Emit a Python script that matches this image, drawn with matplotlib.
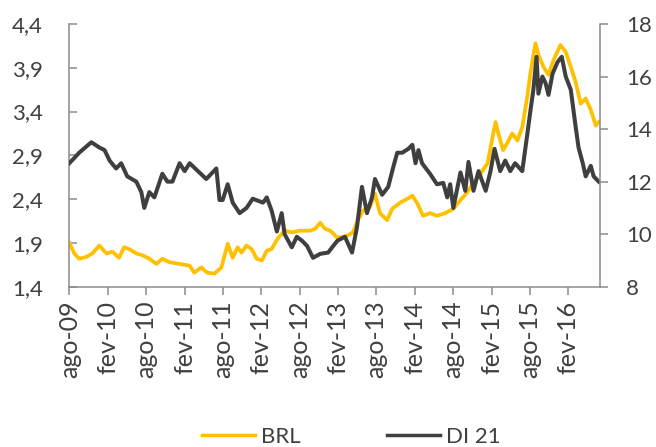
import pandas as pd
import matplotlib
matplotlib.use("Agg")
import matplotlib.pyplot as plt
from matplotlib.lines import Line2D

plt.rcParams['font.family'] = ['Lato', 'DejaVu Sans']

# BRL (left axis)
brl_dates = [
    "2009-08-01", "2009-08-25", "2009-09-17", "2009-10-21", "2009-11-19", "2009-12-22",
    "2010-01-25", "2010-02-22", "2010-03-26", "2010-04-19", "2010-05-13", "2010-06-16",
    "2010-07-14", "2010-08-17", "2010-09-20", "2010-10-18", "2010-11-21", "2011-01-08",
    "2011-02-25", "2011-03-19", "2011-04-21", "2011-05-20", "2011-06-23", "2011-07-26",
    "2011-08-25", "2011-09-18", "2011-10-11", "2011-10-30", "2011-11-23", "2011-12-17",
    "2012-01-10", "2012-02-04", "2012-02-27", "2012-03-21", "2012-04-19", "2012-05-22",
    "2012-06-25", "2012-08-03", "2012-09-20", "2012-10-14", "2012-11-07", "2012-12-01",
    "2012-12-25", "2013-01-28", "2013-03-14", "2013-04-12", "2013-05-06", "2013-05-30",
    "2013-07-02", "2013-07-26", "2013-08-19", "2013-09-22", "2013-10-16", "2013-11-23",
    "2014-01-01", "2014-01-20", "2014-02-13", "2014-03-12", "2014-04-14", "2014-05-17",
    "2014-06-25", "2014-08-03", "2014-09-06", "2014-10-09", "2014-11-07", "2014-12-10",
    "2015-01-13", "2015-02-06", "2015-02-20", "2015-03-05", "2015-03-28", "2015-04-17",
    "2015-05-10", "2015-06-04", "2015-06-27", "2015-07-21", "2015-08-05", "2015-08-29",
    "2015-09-12", "2015-10-06", "2015-10-30", "2015-11-23", "2015-12-26", "2016-01-20",
    "2016-02-13", "2016-03-07", "2016-03-31", "2016-04-24", "2016-05-18", "2016-06-11",
    "2016-06-25",
]
brl_values = [
    1.90, 1.78, 1.72, 1.74, 1.78, 1.87,
    1.78, 1.80, 1.73, 1.85, 1.83, 1.78,
    1.76, 1.72, 1.66, 1.72, 1.68, 1.66,
    1.64, 1.56, 1.62, 1.56, 1.55, 1.62,
    1.89, 1.73, 1.85, 1.79, 1.87, 1.83,
    1.72, 1.70, 1.81, 1.83, 1.95, 2.04,
    2.02, 2.04, 2.04, 2.06, 2.13, 2.06,
    2.04, 1.96, 1.98, 2.02, 2.16, 2.27,
    2.31, 2.46, 2.24, 2.16, 2.29, 2.36,
    2.41, 2.44, 2.35, 2.21, 2.24, 2.21,
    2.24, 2.29, 2.39, 2.48, 2.59, 2.69,
    2.81, 3.11, 3.28, 3.15, 2.96, 3.04,
    3.15, 3.07, 3.22, 3.57, 3.84, 4.18,
    4.05, 3.91, 3.82, 3.99, 4.16, 4.08,
    3.91, 3.74, 3.49, 3.55, 3.42, 3.24,
    3.28,
]

# DI 21 (right axis)
di_dates = [
    "2009-08-01", "2009-08-25", "2009-09-17", "2009-11-14", "2009-12-22", "2010-01-16",
    "2010-02-09", "2010-03-12", "2010-04-05", "2010-05-04", "2010-06-16", "2010-07-10",
    "2010-07-24", "2010-08-17", "2010-09-10", "2010-10-18", "2010-11-11", "2010-12-05",
    "2011-01-08", "2011-02-01", "2011-02-25", "2011-04-12", "2011-05-15", "2011-07-02",
    "2011-07-17", "2011-08-01", "2011-08-25", "2011-09-18", "2011-10-21", "2011-11-23",
    "2011-12-22", "2012-02-09", "2012-02-27", "2012-03-21", "2012-04-15", "2012-05-08",
    "2012-05-22", "2012-06-25", "2012-07-19", "2012-08-13", "2012-09-06", "2012-10-04",
    "2012-11-07", "2012-12-15", "2013-01-28", "2013-03-05", "2013-04-08", "2013-05-01",
    "2013-05-25", "2013-06-18", "2013-07-12", "2013-07-26", "2013-08-29", "2013-09-27",
    "2013-10-21", "2013-11-09", "2013-12-03", "2014-01-01", "2014-01-20", "2014-02-04",
    "2014-02-18", "2014-03-07", "2014-04-14", "2014-05-17", "2014-06-16", "2014-07-05",
    "2014-07-19", "2014-08-03", "2014-09-06", "2014-09-29", "2014-10-14", "2014-11-07",
    "2014-12-01", "2015-01-04", "2015-01-27", "2015-02-15", "2015-03-14", "2015-04-07",
    "2015-05-01", "2015-05-24", "2015-06-27", "2015-07-21", "2015-08-05", "2015-08-19",
    "2015-09-03", "2015-09-12", "2015-10-01", "2015-10-16", "2015-10-30", "2015-11-18",
    "2015-12-12", "2016-01-01", "2016-01-20", "2016-02-13", "2016-03-07", "2016-03-21",
    "2016-04-10", "2016-04-24", "2016-05-18", "2016-06-01", "2016-06-25",
]
di_values = [
    12.7, 12.9, 13.1, 13.5, 13.3, 13.2,
    12.8, 12.5, 12.7, 12.2, 12.0, 11.6,
    11.0, 11.6, 11.4, 12.3, 12.0, 12.0,
    12.7, 12.4, 12.7, 12.35, 12.1, 12.5,
    11.3, 11.3, 11.9, 11.2, 10.8, 11.0,
    11.35, 11.2, 11.4, 10.9, 10.1, 10.8,
    10.0, 9.5, 9.9, 9.75, 9.55, 9.1,
    9.25, 9.3, 9.75, 9.9, 9.3, 10.25,
    11.8, 10.8, 11.4, 12.1, 11.5, 11.8,
    12.55, 13.1, 13.1, 13.25, 13.4, 12.7,
    13.2, 12.7, 12.3, 11.9, 11.95, 11.4,
    11.9, 11.0, 12.35, 11.65, 12.75, 11.65,
    12.4, 11.65, 12.4, 13.25, 12.4, 12.8,
    12.4, 12.7, 12.4, 13.8, 14.7, 15.5,
    16.75, 15.35, 16.0, 15.75, 15.3, 16.1,
    16.55, 16.75, 16.0, 15.5, 14.1, 13.3,
    12.7, 12.2, 12.6, 12.2, 12.0,
]

x_tick_dates = pd.date_range("2009-08-01", "2016-02-01", freq="6MS")
x_tick_labels = ["ago-09", "fev-10", "ago-10", "fev-11", "ago-11", "fev-12", "ago-12",
                 "fev-13", "ago-13", "fev-14", "ago-14", "fev-15", "ago-15", "fev-16"]
left_ticks = [1.4, 1.9, 2.4, 2.9, 3.4, 3.9, 4.4]
left_labels = ["1,4", "1,9", "2,4", "2,9", "3,4", "3,9", "4,4"]
right_ticks = [8, 10, 12, 14, 16, 18]

gold = '#FFC000'
dark = '#3F3F3F'
axis_gray = '#8C8C8C'
text_color = '#404040'
fs = 16

fig = plt.figure(figsize=(6.56, 4.47), dpi=100)
ax = fig.add_axes([0.1056, 0.3586, 0.8090, 0.5877])
ax2 = ax.twinx()

ax.plot(pd.to_datetime(brl_dates), brl_values, color=gold, lw=2.7, solid_joinstyle='round')
ax2.plot(pd.to_datetime(di_dates), di_values, color=dark, lw=2.9, solid_joinstyle='round')

ax.set_xlim(pd.Timestamp("2009-08-01"), pd.Timestamp("2016-07-01"))
ax.set_ylim(1.4, 4.4)
ax2.set_ylim(8, 18)

ax.set_xticks(x_tick_dates)
ax.set_xticklabels(x_tick_labels, rotation=90, fontsize=18, color=text_color)
ax.set_yticks(left_ticks)
ax.set_yticklabels(left_labels, fontsize=fs, color=text_color)
ax2.set_yticks(right_ticks)
ax2.set_yticklabels([str(t) for t in right_ticks], fontsize=fs, color=text_color)

ax.tick_params(axis='x', direction='out', length=6, width=1.1, color=axis_gray, pad=4)
ax.tick_params(axis='y', direction='in', length=6, width=1.1, color=axis_gray, pad=19)
ax2.tick_params(axis='y', direction='out', length=6, width=1.1, color=axis_gray, pad=13)

for s in ['top', 'right']:
    ax.spines[s].set_visible(False)
for s in ['top', 'left', 'bottom']:
    ax2.spines[s].set_visible(False)
for s in ['left', 'bottom']:
    ax.spines[s].set_color(axis_gray)
    ax.spines[s].set_linewidth(1.1)
ax2.spines['right'].set_color(axis_gray)
ax2.spines['right'].set_linewidth(1.1)

handles = [Line2D([], [], color=gold, lw=2.5), Line2D([], [], color=dark, lw=2.5)]
fig.legend(handles, ["BRL", "DI 21"], loc='center', bbox_to_anchor=(0.535, 0.022),
           ncol=2, frameon=False, fontsize=fs, handlelength=2.4, handletextpad=0.25,
           columnspacing=3.9, labelcolor=text_color)

fig.savefig("out.png", dpi=100)
